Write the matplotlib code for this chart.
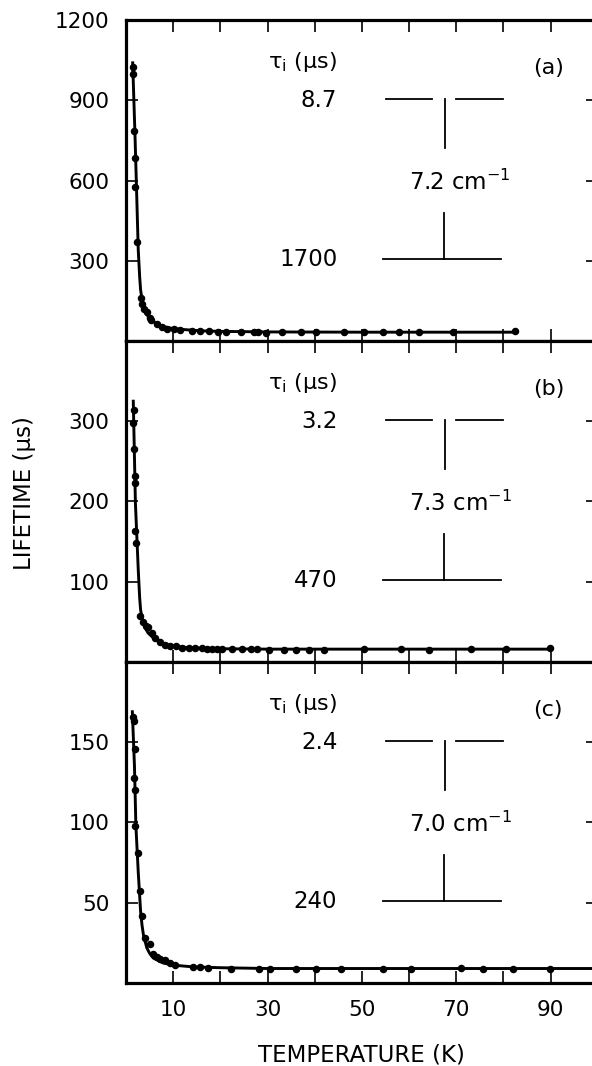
import numpy as np
from matplotlib import pyplot as plt

plt.rcParams['font.family'] = ['DejaVu Sans']
plt.rcParams['mathtext.default'] = 'regular'

# measured lifetimes (us) vs temperature (K), panels a, b, c
temp_a = [1.55, 1.55, 1.77, 1.91, 1.98, 2.4, 3.2, 3.5, 3.8, 4.4, 5.1, 5.4, 6.5, 7.6, 8.7,
          10.1, 11.5, 14.0, 15.7, 17.5, 19.4, 21.1, 24.3, 27.2, 27.9, 29.6, 33.1, 37.0,
          40.2, 46.2, 50.5, 54.4, 57.9, 62.1, 69.3, 82.4]
life_a = [1025, 997, 784, 684, 575, 371, 160, 140, 120, 109, 87, 80, 62, 52, 46,
          44, 42, 38, 37, 36, 35, 35, 34, 35, 34, 31, 33, 34,
          32, 34, 33, 33, 34, 33, 35, 37]

temp_b = [1.7, 1.55, 1.7, 1.85, 1.98, 1.85, 2.1, 3.0, 3.7, 4.3, 4.6, 5.5, 6.2, 7.2, 8.3,
          9.4, 10.5, 11.8, 13.3, 14.7, 16.2, 17.2, 18.2, 19.3, 20.4, 22.5, 24.6, 26.4,
          27.8, 30.3, 33.5, 36.0, 38.8, 42.0, 50.5, 58.3, 64.3, 73.2, 80.6, 89.9]
life_b = [314, 298, 265, 232, 223, 163, 148, 57, 50, 45, 43, 36, 30, 25, 21,
          20, 19.5, 18, 17.5, 17, 17, 16.5, 16.5, 16, 16, 16, 16, 16,
          16, 15.5, 15.5, 15.5, 15.5, 15.5, 16, 16, 15, 16, 16, 17]

temp_c = [1.55, 1.7, 1.85, 1.77, 1.91, 1.98, 2.6, 3.0, 3.4, 4.0, 5.1, 5.8, 6.5, 7.2, 8.3,
          9.4, 10.4, 14.3, 15.7, 17.3, 22.3, 28.1, 30.6, 36.0, 40.2, 45.5, 54.4, 60.4,
          71.1, 75.7, 82.1, 89.9]
life_c = [166, 163, 146, 128, 120, 98, 81, 57, 42, 28, 24, 18, 16, 15, 14,
          12.5, 11.4, 9.7, 9.7, 9.5, 9, 9, 9, 9, 9, 9, 9, 9,
          9.5, 9, 9, 9]

# fitted curves
fit_temp_a = [1.42, 1.9, 2.3, 2.6, 2.9, 3.1, 3.4, 3.7, 4.2, 4.7, 5.8, 7.9, 10.1, 12.9, 16, 20, 30, 50, 70, 82.4]
fit_life_a = [1040, 776, 529, 341, 240, 191, 155, 129, 106, 91, 72, 54, 46, 42, 38, 36, 34, 33, 33, 33]
fit_temp_b = [1.55, 2.0, 2.6, 2.9, 3.1, 3.4, 3.7, 4.2, 4.7, 5.8, 7.9, 10.1, 12.9, 16, 20, 30, 50, 70, 89.9]
fit_life_b = [325, 198, 115, 80, 65, 55, 48, 41, 36, 30, 22, 20, 18, 17, 16.5, 16, 16, 16, 16]
fit_temp_c = [1.35, 1.8, 2.1, 2.6, 3.1, 3.4, 3.7, 4.4, 5.0, 5.8, 7.9, 10.4, 14.3, 20, 30, 50, 70, 100]
fit_life_c = [169, 135, 98, 69, 44.5, 36, 30, 22, 18.5, 15.5, 12.4, 11, 10, 9.5, 9, 9, 9, 9]

upper_t1 = ['8.7', '3.2', '2.4']
lower_t1 = ['1700', '470', '240']
splitting = ['7.2', '7.3', '7.0']
panel_tags = ['(a)', '(b)', '(c)']
ylims = [1200, 400, 200]
yticks = [[300, 600, 900, 1200], [100, 200, 300], [50, 100, 150]]
xticks = list(range(10, 100, 10))
xlabels = ['10', '', '30', '', '50', '', '70', '', '90']

temps = [temp_a, temp_b, temp_c]
lives = [life_a, life_b, life_c]
fit_temps = [fit_temp_a, fit_temp_b, fit_temp_c]
fit_lives = [fit_life_a, fit_life_b, fit_life_c]

fig = plt.figure(figsize=(5.92, 10.66), dpi=100)
left, width, h = 0.2128, 0.797, 0.3011
bottoms = [0.6801, 0.379, 0.0779]

for i in range(3):
    ax = fig.add_axes([left, bottoms[i], width, h])
    ax.plot(fit_temps[i], fit_lives[i], color='black', lw=2.1)
    ax.plot(temps[i], lives[i], 'o', color='black', ms=4.4)
    ax.set_xlim(0, 100)
    ax.set_ylim(0, ylims[i])
    ax.set_xticks(xticks)
    if i == 2:
        ax.set_xticklabels(xlabels)
    else:
        ax.set_xticklabels([])
    ax.set_yticks(yticks[i])
    ax.tick_params(direction='in', length=8.5, width=1.2, top=True, right=True,
                   labelsize=15.5, pad=12)
    for sp in ax.spines.values():
        sp.set_linewidth(2.3)

    tr = ax.transAxes
    ax.text(0.30, 0.868, r'τ$_{i}$ (μs)', transform=tr, fontsize=16, va='center', ha='left')
    ax.text(0.862, 0.85, panel_tags[i], transform=tr, fontsize=16, va='center', ha='left')
    ax.text(0.448, 0.75, upper_t1[i], transform=tr, fontsize=16.5, va='center', ha='right')
    ax.text(0.448, 0.255, lower_t1[i], transform=tr, fontsize=16.5, va='center', ha='right')
    ax.text(0.600, 0.495, splitting[i] + r' cm$^{-1}$', transform=tr, fontsize=16.5,
            va='center', ha='left')
    # energy level diagram
    ax.plot([0.552, 0.649], [0.754, 0.754], transform=tr, color='black', lw=1.3)
    ax.plot([0.700, 0.799], [0.754, 0.754], transform=tr, color='black', lw=1.3)
    ax.plot([0.677, 0.677], [0.754, 0.600], transform=tr, color='black', lw=1.3)
    ax.plot([0.675, 0.675], [0.398, 0.255], transform=tr, color='black', lw=1.3)
    ax.plot([0.544, 0.795], [0.255, 0.255], transform=tr, color='black', lw=1.3)

fig.text(0.042, 0.5375, 'LIFETIME (μs)', rotation=90, fontsize=16.5, ha='center', va='center')
fig.text(0.61, 0.0103, 'TEMPERATURE (K)', fontsize=16.5, ha='center', va='center')

plt.savefig('out.png', dpi=100)
